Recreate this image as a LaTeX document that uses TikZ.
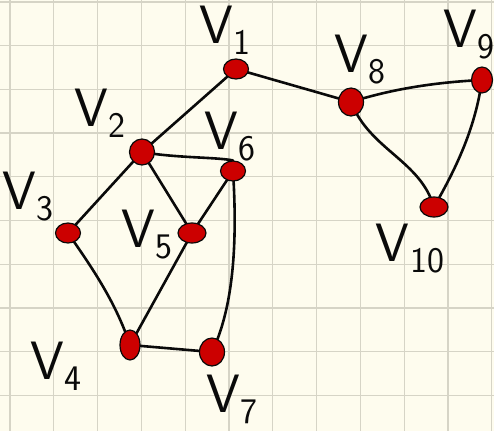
\documentclass[tikz,border=0pt]{standalone}
\usepackage{tikz}
\usetikzlibrary{shapes.geometric}
\definecolor{paper}{RGB}{254,252,238}
\definecolor{gridline}{RGB}{214,212,198}
\definecolor{ink}{RGB}{10,10,10}
\definecolor{marker}{RGB}{204,0,0}
\pgfdeclarelayer{paperlayer}
\pgfdeclarelayer{edgelayer}
\pgfsetlayers{paperlayer,edgelayer,main}
\newcommand{\vlab}[1]{V\kern1pt\raisebox{-11pt}{\fontsize{36}{36}\selectfont #1}}
\tikzset{
  vertex/.style={ellipse, draw=ink, line width=1.2pt, fill=marker,
    minimum width=25pt, minimum height=20pt, inner sep=0pt},
  vname/.style={font=\sffamily\fontsize{54}{54}\selectfont, text=ink, inner sep=0pt},
  edge/.style={draw=ink, line width=2.6pt, line cap=round}
}
\begin{document}
\begin{tikzpicture}[x=1pt,y=-1pt]
\useasboundingbox (0,0) rectangle (494,431);
\begin{pgfonlayer}{paperlayer}
  \fill[paper] (0,0) rectangle (494,431);
  \foreach \i in {0,...,11} {
    \draw[gridline, line width=1.3pt] (10+43.8*\i,0) -- (10+43.8*\i,431);
  }
  \foreach \j in {0,...,9} {
    \draw[gridline, line width=1.3pt] (0,2+43.7*\j) -- (494,2+43.7*\j);
  }
\end{pgfonlayer}

% vertices
\node[vertex] (v1)  at (236,69)  {};
\node[vertex, minimum height=26pt] (v2)  at (142,152) {};
\node[vertex] (v3)  at (68,233)  {};
\node[vertex, minimum width=20pt, minimum height=30pt] (v4)  at (130,345) {};
\node[vertex, minimum width=28pt] (v5)  at (192,233) {};
\node[vertex] (v6)  at (233,171) {};
\node[vertex, minimum height=28pt] (v7)  at (212,352) {};
\node[vertex, minimum height=28pt] (v8)  at (351,102) {};
\node[vertex, minimum width=21pt, minimum height=26pt] (v9)  at (482,80)  {};
\node[vertex, minimum width=28pt] (v10) at (434,207) {};

% vertex names
\node[vname] (l1)  at (225,30)  {\vlab{1}};
\node[vname] (l2)  at (100,113) {\vlab{2}};
\node[vname] (l3)  at (28,197)  {\vlab{3}};
\node[vname] (l4)  at (56,366)  {\vlab{4}};
\node[vname] (l5)  at (147,235) {\vlab{5}};
\node[vname] (l6)  at (230,137) {\vlab{6}};
\node[vname] (l7)  at (232,399) {\vlab{7}};
\node[vname] (l8)  at (360,60)  {\vlab{8}};
\node[vname] (l9)  at (469,35)  {\vlab{9}};
\node[vname] (l10) at (410,249) {\vlab{10}};

% edges
\begin{pgfonlayer}{edgelayer}
  \draw[edge] (v1.center) -- (v2.center);
  \draw[edge] (v1.center) -- (v8.center);
  \draw[edge] (v2.center) .. controls (175,158) and (215,157) .. (v6.north);
  \draw[edge] (v2.center) -- (v3.center);
  \draw[edge] (v2.center) -- (v5.center);
  \draw[edge] (v6.center) -- (v5.center);
  \draw[edge] (v6.center) .. controls (238,250) and (232,310) .. (v7.center);
  \draw[edge] (v3.center) .. controls (90,265) and (115,300) .. (v4.center);
  \draw[edge] (v5.center) -- (v4.center);
  \draw[edge] (v4.center) -- (v7.center);
  \draw[edge] (v8.center) .. controls (395,88) and (440,82) .. (v9.center);
  \draw[edge] (v8.center) .. controls (370,150) and (420,160) .. (v10.center);
  \draw[edge] (v9.center) .. controls (475,130) and (455,170) .. (v10.center);
\end{pgfonlayer}
\end{tikzpicture}
\end{document}
